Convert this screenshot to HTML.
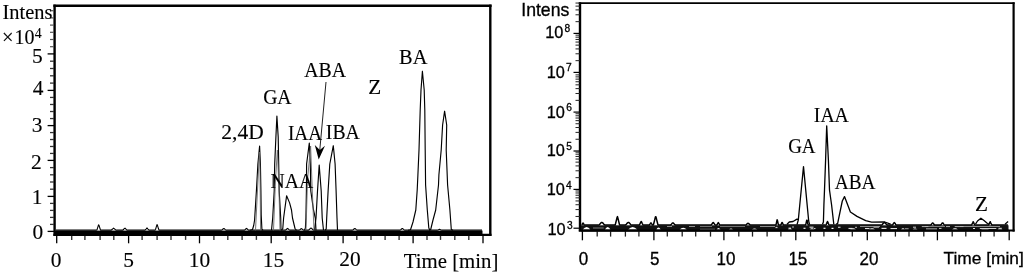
<!DOCTYPE html>
<html><head><meta charset="utf-8"><style>
html,body{margin:0;padding:0;background:#fff;width:1024px;height:273px;overflow:hidden}
svg{display:block;will-change:transform}
</style></head><body>
<svg width="1024" height="273" viewBox="0 0 1024 273">
<rect width="1024" height="273" fill="#fff"/>
<line x1="54.60" y1="4.60" x2="54.60" y2="235.90" stroke="#000" stroke-width="2.4"/>
<line x1="53.40" y1="5.80" x2="491.60" y2="5.80" stroke="#000" stroke-width="2.5"/>
<line x1="490.30" y1="4.60" x2="490.30" y2="235.90" stroke="#000" stroke-width="2.4"/>
<line x1="53.40" y1="234.80" x2="491.50" y2="234.80" stroke="#000" stroke-width="2.2"/>
<line x1="56.70" y1="235.50" x2="56.70" y2="243.30" stroke="#000" stroke-width="1.3"/>
<line x1="71.70" y1="235.50" x2="71.70" y2="239.90" stroke="#333" stroke-width="1.4"/>
<line x1="84.90" y1="235.50" x2="84.90" y2="239.90" stroke="#333" stroke-width="1.4"/>
<line x1="100.10" y1="235.50" x2="100.10" y2="239.90" stroke="#333" stroke-width="1.4"/>
<line x1="113.80" y1="235.50" x2="113.80" y2="239.90" stroke="#333" stroke-width="1.4"/>
<line x1="128.60" y1="235.50" x2="128.60" y2="243.30" stroke="#000" stroke-width="1.3"/>
<line x1="142.10" y1="235.50" x2="142.10" y2="239.90" stroke="#333" stroke-width="1.4"/>
<line x1="157.10" y1="235.50" x2="157.10" y2="239.90" stroke="#333" stroke-width="1.4"/>
<line x1="171.00" y1="235.50" x2="171.00" y2="239.90" stroke="#333" stroke-width="1.4"/>
<line x1="185.60" y1="235.50" x2="185.60" y2="239.90" stroke="#333" stroke-width="1.4"/>
<line x1="199.50" y1="235.50" x2="199.50" y2="243.30" stroke="#000" stroke-width="1.3"/>
<line x1="213.90" y1="235.50" x2="213.90" y2="239.90" stroke="#333" stroke-width="1.4"/>
<line x1="227.80" y1="235.50" x2="227.80" y2="239.90" stroke="#333" stroke-width="1.4"/>
<line x1="242.10" y1="235.50" x2="242.10" y2="239.90" stroke="#333" stroke-width="1.4"/>
<line x1="256.40" y1="235.50" x2="256.40" y2="239.90" stroke="#333" stroke-width="1.4"/>
<line x1="271.20" y1="235.50" x2="271.20" y2="243.30" stroke="#000" stroke-width="1.3"/>
<line x1="285.90" y1="235.50" x2="285.90" y2="239.90" stroke="#333" stroke-width="1.4"/>
<line x1="299.80" y1="235.50" x2="299.80" y2="239.90" stroke="#333" stroke-width="1.4"/>
<line x1="314.40" y1="235.50" x2="314.40" y2="239.90" stroke="#333" stroke-width="1.4"/>
<line x1="328.10" y1="235.50" x2="328.10" y2="239.90" stroke="#333" stroke-width="1.4"/>
<line x1="343.10" y1="235.50" x2="343.10" y2="243.30" stroke="#000" stroke-width="1.3"/>
<line x1="356.80" y1="235.50" x2="356.80" y2="239.90" stroke="#333" stroke-width="1.4"/>
<line x1="371.00" y1="235.50" x2="371.00" y2="239.90" stroke="#333" stroke-width="1.4"/>
<line x1="385.10" y1="235.50" x2="385.10" y2="239.90" stroke="#333" stroke-width="1.4"/>
<line x1="399.10" y1="235.50" x2="399.10" y2="239.90" stroke="#333" stroke-width="1.4"/>
<line x1="413.10" y1="235.50" x2="413.10" y2="243.30" stroke="#000" stroke-width="1.3"/>
<line x1="427.00" y1="235.50" x2="427.00" y2="239.90" stroke="#333" stroke-width="1.4"/>
<line x1="440.50" y1="235.50" x2="440.50" y2="239.90" stroke="#333" stroke-width="1.4"/>
<line x1="454.80" y1="235.50" x2="454.80" y2="239.90" stroke="#333" stroke-width="1.4"/>
<line x1="468.80" y1="235.50" x2="468.80" y2="239.90" stroke="#333" stroke-width="1.4"/>
<line x1="483.00" y1="235.50" x2="483.00" y2="243.30" stroke="#000" stroke-width="1.3"/>
<line x1="47.60" y1="231.40" x2="54.00" y2="231.40" stroke="#000" stroke-width="1.3"/>
<line x1="50.00" y1="224.40" x2="54.00" y2="224.40" stroke="#333" stroke-width="1.3"/>
<line x1="50.00" y1="217.40" x2="54.00" y2="217.40" stroke="#333" stroke-width="1.3"/>
<line x1="50.00" y1="210.40" x2="54.00" y2="210.40" stroke="#333" stroke-width="1.3"/>
<line x1="50.00" y1="203.40" x2="54.00" y2="203.40" stroke="#333" stroke-width="1.3"/>
<line x1="47.60" y1="196.40" x2="54.00" y2="196.40" stroke="#000" stroke-width="1.3"/>
<line x1="50.00" y1="189.20" x2="54.00" y2="189.20" stroke="#333" stroke-width="1.3"/>
<line x1="50.00" y1="182.00" x2="54.00" y2="182.00" stroke="#333" stroke-width="1.3"/>
<line x1="50.00" y1="174.80" x2="54.00" y2="174.80" stroke="#333" stroke-width="1.3"/>
<line x1="50.00" y1="167.60" x2="54.00" y2="167.60" stroke="#333" stroke-width="1.3"/>
<line x1="47.60" y1="160.40" x2="54.00" y2="160.40" stroke="#000" stroke-width="1.3"/>
<line x1="50.00" y1="153.44" x2="54.00" y2="153.44" stroke="#333" stroke-width="1.3"/>
<line x1="50.00" y1="146.48" x2="54.00" y2="146.48" stroke="#333" stroke-width="1.3"/>
<line x1="50.00" y1="139.52" x2="54.00" y2="139.52" stroke="#333" stroke-width="1.3"/>
<line x1="50.00" y1="132.56" x2="54.00" y2="132.56" stroke="#333" stroke-width="1.3"/>
<line x1="47.60" y1="125.60" x2="54.00" y2="125.60" stroke="#000" stroke-width="1.3"/>
<line x1="50.00" y1="118.56" x2="54.00" y2="118.56" stroke="#333" stroke-width="1.3"/>
<line x1="50.00" y1="111.52" x2="54.00" y2="111.52" stroke="#333" stroke-width="1.3"/>
<line x1="50.00" y1="104.48" x2="54.00" y2="104.48" stroke="#333" stroke-width="1.3"/>
<line x1="50.00" y1="97.44" x2="54.00" y2="97.44" stroke="#333" stroke-width="1.3"/>
<line x1="47.60" y1="90.40" x2="54.00" y2="90.40" stroke="#000" stroke-width="1.3"/>
<line x1="50.00" y1="83.10" x2="54.00" y2="83.10" stroke="#333" stroke-width="1.3"/>
<line x1="50.00" y1="75.80" x2="54.00" y2="75.80" stroke="#333" stroke-width="1.3"/>
<line x1="50.00" y1="68.50" x2="54.00" y2="68.50" stroke="#333" stroke-width="1.3"/>
<line x1="50.00" y1="61.20" x2="54.00" y2="61.20" stroke="#333" stroke-width="1.3"/>
<line x1="47.60" y1="53.90" x2="54.00" y2="53.90" stroke="#000" stroke-width="1.3"/>
<line x1="50.00" y1="46.70" x2="54.00" y2="46.70" stroke="#555" stroke-width="1.2"/>
<line x1="50.00" y1="39.50" x2="54.00" y2="39.50" stroke="#555" stroke-width="1.2"/>
<line x1="50.00" y1="32.30" x2="54.00" y2="32.30" stroke="#555" stroke-width="1.2"/>
<line x1="50.00" y1="25.10" x2="54.00" y2="25.10" stroke="#555" stroke-width="1.2"/>
<line x1="50.00" y1="17.90" x2="54.00" y2="17.90" stroke="#555" stroke-width="1.2"/>
<line x1="50.00" y1="10.70" x2="54.00" y2="10.70" stroke="#555" stroke-width="1.2"/>
<rect x="55.00" y="230.60" width="427.50" height="5.20" fill="#000"/>
<polyline points="56.0,230.1 56.5,230.1 57.0,230.1 57.5,230.1 58.0,230.1 58.5,230.1 59.0,230.1 59.5,230.1 60.0,230.1 60.5,230.1 61.0,230.1 61.5,230.1 62.0,230.1 62.5,230.1 63.0,230.1 63.5,230.1 64.0,230.1 64.5,230.1 65.0,230.1 65.5,230.1 66.0,230.1 66.5,230.1 67.0,230.1 67.5,230.1 68.0,230.1 68.5,230.1 69.0,230.1 69.5,230.1 70.0,230.1 70.5,230.1 71.0,230.1 71.5,230.1 72.0,230.1 72.5,230.1 73.0,230.1 73.5,230.1 74.0,230.1 74.5,230.1 75.0,230.1 75.5,230.1 76.0,230.1 76.5,230.1 77.0,230.1 77.5,230.1 78.0,230.1 78.5,230.1 79.0,230.1 79.5,230.1 80.0,230.1 80.5,230.1 81.0,230.1 81.5,230.1 82.0,230.1 82.5,230.1 83.0,230.1 83.5,230.1 84.0,230.1 84.5,230.1 85.0,230.1 85.5,230.1 86.0,230.1 86.5,230.1 87.0,230.1 87.5,230.1 88.0,230.1 88.5,230.1 89.0,230.1 89.5,230.1 90.0,230.1 90.5,230.1 91.0,230.1 91.5,230.1 92.0,230.1 92.5,230.1 93.0,230.1 93.5,230.1 94.0,230.1 94.5,230.1 95.0,230.1 95.5,230.1 96.0,230.1 96.5,230.1 97.0,229.8 97.5,228.2 98.0,226.6 98.5,224.9 99.0,225.3 99.5,226.9 100.0,228.5 100.5,230.1 101.0,230.1 101.5,230.1 102.0,230.1 102.5,230.1 103.0,230.1 103.5,230.1 104.0,230.1 104.5,230.1 105.0,230.1 105.5,230.1 106.0,230.1 106.5,230.1 107.0,230.1 107.5,230.1 108.0,230.1 108.5,230.1 109.0,230.1 109.5,230.1 110.0,230.1 110.5,230.1 111.0,230.1 111.5,230.0 112.0,229.5 112.5,229.0 113.0,228.6 113.5,228.1 114.0,228.4 114.5,228.9 115.0,229.3 115.5,229.8 116.0,230.1 116.5,230.1 117.0,230.1 117.5,230.1 118.0,230.1 118.5,230.1 119.0,230.1 119.5,230.1 120.0,230.1 120.5,230.1 121.0,230.1 121.5,230.1 122.0,230.1 122.5,230.1 123.0,230.0 123.5,229.5 124.0,228.9 124.5,228.4 125.0,228.1 125.5,228.6 126.0,229.2 126.5,229.7 127.0,230.1 127.5,230.1 128.0,230.1 128.5,230.1 129.0,230.1 129.5,230.1 130.0,230.1 130.5,230.1 131.0,230.1 131.5,230.1 132.0,230.1 132.5,230.1 133.0,230.1 133.5,230.1 134.0,230.1 134.5,230.1 135.0,230.1 135.5,230.1 136.0,230.1 136.5,230.1 137.0,230.1 137.5,230.1 138.0,230.1 138.5,230.1 139.0,230.1 139.5,230.1 140.0,230.1 140.5,230.1 141.0,230.1 141.5,230.1 142.0,230.1 142.5,230.1 143.0,230.1 143.5,230.1 144.0,230.1 144.5,230.1 145.0,230.1 145.5,229.6 146.0,229.1 146.5,228.5 147.0,228.0 147.5,228.5 148.0,229.1 148.5,229.6 149.0,230.1 149.5,230.1 150.0,230.1 150.5,230.1 151.0,230.1 151.5,230.1 152.0,230.1 152.5,230.1 153.0,230.1 153.5,230.1 154.0,230.1 154.5,230.1 155.0,230.1 155.5,229.5 156.0,227.8 156.5,226.2 157.0,224.6 157.5,225.6 158.0,227.2 158.5,228.8 159.0,230.1 159.5,230.1 160.0,230.1 160.5,230.1 161.0,230.1 161.5,230.1 162.0,230.1 162.5,230.1 163.0,230.1 163.5,230.1 164.0,230.1 164.5,230.1 165.0,230.1 165.5,230.1 166.0,230.1 166.5,230.1 167.0,230.1 167.5,230.1 168.0,230.1 168.5,230.1 169.0,230.1 169.5,230.1 170.0,230.1 170.5,230.1 171.0,230.1 171.5,230.1 172.0,230.1 172.5,230.1 173.0,230.1 173.5,230.1 174.0,230.1 174.5,230.1 175.0,230.1 175.5,230.1 176.0,230.1 176.5,230.1 177.0,230.1 177.5,230.1 178.0,230.1 178.5,230.1 179.0,230.1 179.5,230.1 180.0,230.1 180.5,230.1 181.0,230.1 181.5,230.1 182.0,230.1 182.5,230.1 183.0,230.1 183.5,230.1 184.0,230.1 184.5,230.1 185.0,230.1 185.5,230.1 186.0,230.1 186.5,230.1 187.0,230.1 187.5,230.1 188.0,230.1 188.5,230.1 189.0,230.1 189.5,230.1 190.0,230.1 190.5,230.1 191.0,230.1 191.5,230.1 192.0,230.1 192.5,230.1 193.0,230.1 193.5,230.1 194.0,230.1 194.5,230.1 195.0,230.1 195.5,230.1 196.0,230.1 196.5,230.1 197.0,230.1 197.5,230.1 198.0,230.1 198.5,230.1 199.0,230.1 199.5,230.1 200.0,230.1 200.5,230.1 201.0,230.1 201.5,230.1 202.0,230.1 202.5,230.1 203.0,230.1 203.5,230.1 204.0,230.1 204.5,230.1 205.0,230.1 205.5,230.1 206.0,230.1 206.5,230.1 207.0,230.1 207.5,230.1 208.0,230.1 208.5,230.1 209.0,230.1 209.5,230.1 210.0,230.1 210.5,230.1 211.0,230.1 211.5,230.1 212.0,230.1 212.5,230.1 213.0,230.1 213.5,230.1 214.0,230.1 214.5,230.1 215.0,230.1 215.5,230.1 216.0,230.1 216.5,230.1 217.0,230.1 217.5,230.1 218.0,230.1 218.5,230.1 219.0,230.1 219.5,230.1 220.0,230.1 220.5,230.1 221.0,230.1 221.5,230.1 222.0,229.9 222.5,229.5 223.0,229.0 223.5,228.6 224.0,228.5 224.5,228.9 225.0,229.4 225.5,229.8 226.0,230.1 226.5,230.1 227.0,230.1 227.5,230.1 228.0,230.1 228.5,230.1 229.0,230.1 229.5,230.1 230.0,230.1 230.5,230.1 231.0,230.1 231.5,230.1 232.0,230.1 232.5,230.1 233.0,230.1 233.5,230.1 234.0,230.1 234.5,230.1 235.0,230.1 235.5,230.1 236.0,230.1 236.5,230.1 237.0,230.1 237.5,230.1 238.0,230.1 238.5,230.1 239.0,230.1 239.5,230.1 240.0,230.1 240.5,230.1 241.0,230.1 241.5,230.1 242.0,230.1 242.5,230.1 243.0,230.1 243.5,230.1 244.0,230.1 244.5,230.1 245.0,229.7 245.5,229.2 246.0,228.8 246.5,228.3 247.0,228.8 247.5,229.2 248.0,229.7 248.5,230.1 249.0,230.1 249.5,230.1 250.0,230.1 250.5,230.1 251.0,230.1 251.5,230.1 252.0,230.1 252.5,230.1 253.0,230.1 253.5,230.1 254.0,230.1 254.5,230.1 255.0,230.1 255.5,230.1 256.0,230.1 256.5,230.1 257.0,230.1 257.5,230.1 258.0,230.1 258.5,230.1 259.0,230.1 259.5,230.1 260.0,230.1 260.5,230.1 261.0,230.1 261.5,230.1 262.0,230.1 262.5,230.1 263.0,230.1 263.5,230.1 264.0,230.1 264.5,230.1 265.0,230.1 265.5,230.1 266.0,230.1 266.5,230.1 267.0,230.1 267.5,230.1 268.0,230.1 268.5,230.1 269.0,230.1 269.5,230.1 270.0,230.1 270.5,230.1 271.0,230.1 271.5,230.1 272.0,230.1 272.5,230.1 273.0,230.1 273.5,230.1 274.0,230.1 274.5,230.1 275.0,230.1 275.5,230.1 276.0,230.1 276.5,230.1 277.0,230.1 277.5,230.1 278.0,230.1 278.5,230.1 279.0,230.1 279.5,230.1 280.0,230.1 280.5,230.1 281.0,230.1 281.5,230.1 282.0,230.1 282.5,230.1 283.0,230.1 283.5,230.1 284.0,230.1 284.5,230.1 285.0,230.1 285.5,230.1 286.0,229.7 286.5,229.3 287.0,228.8 287.5,228.4 288.0,228.7 288.5,229.1 289.0,229.6 289.5,230.0 290.0,230.1 290.5,230.1 291.0,230.1 291.5,230.1 292.0,230.1 292.5,230.1 293.0,230.1 293.5,230.1 294.0,230.1 294.5,230.1 295.0,230.1 295.5,230.1 296.0,230.1 296.5,230.1 297.0,230.1 297.5,230.1 298.0,230.1 298.5,230.1 299.0,230.1 299.5,230.0 300.0,229.6 300.5,229.2 301.0,228.8 301.5,228.6 302.0,229.0 302.5,229.4 303.0,229.8 303.5,230.1 304.0,230.1 304.5,230.1 305.0,230.1 305.5,230.1 306.0,230.1 306.5,230.1 307.0,230.1 307.5,230.1 308.0,230.1 308.5,230.1 309.0,229.7 309.5,229.3 310.0,228.8 310.5,228.4 311.0,228.0 311.5,228.4 312.0,228.8 312.5,229.3 313.0,229.7 313.5,230.1 314.0,230.1 314.5,230.1 315.0,230.1 315.5,230.1 316.0,230.1 316.5,230.1 317.0,230.1 317.5,230.1 318.0,230.1 318.5,230.1 319.0,230.1 319.5,230.1 320.0,230.1 320.5,230.1 321.0,230.1 321.5,230.1 322.0,230.1 322.5,230.1 323.0,230.1 323.5,230.1 324.0,230.1 324.5,230.1 325.0,230.1 325.5,230.1 326.0,230.1 326.5,230.1 327.0,230.1 327.5,230.1 328.0,230.1 328.5,230.1 329.0,230.1 329.5,230.1 330.0,230.1 330.5,230.1 331.0,230.1 331.5,230.1 332.0,230.1 332.5,230.1 333.0,230.1 333.5,230.1 334.0,230.1 334.5,230.1 335.0,230.1 335.5,230.1 336.0,230.1 336.5,230.1 337.0,230.1 337.5,230.1 338.0,230.1 338.5,230.1 339.0,230.1 339.5,230.1 340.0,230.1 340.5,230.1 341.0,230.1 341.5,230.1 342.0,230.1 342.5,230.1 343.0,230.1 343.5,230.1 344.0,230.1 344.5,230.1 345.0,230.1 345.5,230.1 346.0,230.1 346.5,230.1 347.0,230.1 347.5,230.1 348.0,230.1 348.5,230.1 349.0,230.1 349.5,230.1 350.0,230.1 350.5,230.1 351.0,230.1 351.5,230.1 352.0,230.1 352.5,230.1 353.0,229.9 353.5,229.5 354.0,229.0 354.5,228.6 355.0,228.5 355.5,228.9 356.0,229.4 356.5,229.8 357.0,230.1 357.5,230.1 358.0,230.1 358.5,230.1 359.0,230.1 359.5,230.1 360.0,230.1 360.5,230.1 361.0,230.1 361.5,230.1 362.0,230.1 362.5,230.1 363.0,230.1 363.5,230.1 364.0,230.1 364.5,230.1 365.0,230.1 365.5,230.1 366.0,230.1 366.5,230.1 367.0,230.1 367.5,230.1 368.0,230.1 368.5,230.1 369.0,230.1 369.5,230.1 370.0,230.1 370.5,230.1 371.0,230.1 371.5,230.1 372.0,230.1 372.5,230.1 373.0,230.1 373.5,230.1 374.0,230.1 374.5,230.1 375.0,230.1 375.5,230.1 376.0,230.1 376.5,230.1 377.0,230.1 377.5,230.1 378.0,230.1 378.5,230.1 379.0,230.1 379.5,230.1 380.0,230.1 380.5,230.1 381.0,230.1 381.5,230.1 382.0,230.1 382.5,230.1 383.0,230.1 383.5,230.1 384.0,230.1 384.5,230.1 385.0,230.1 385.5,230.1 386.0,230.1 386.5,230.1 387.0,230.1 387.5,230.1 388.0,230.1 388.5,230.1 389.0,230.1 389.5,230.1 390.0,230.1 390.5,230.1 391.0,230.1 391.5,230.1 392.0,230.1 392.5,230.1 393.0,230.1 393.5,230.1 394.0,230.1 394.5,230.1 395.0,230.1 395.5,230.1 396.0,230.1 396.5,230.1 397.0,230.1 397.5,230.1 398.0,230.1 398.5,230.1 399.0,230.1 399.5,230.1 400.0,230.1 400.5,229.9 401.0,229.5 401.5,229.0 402.0,228.6 402.5,228.5 403.0,228.9 403.5,229.4 404.0,229.8 404.5,230.1 405.0,230.1 405.5,230.1 406.0,230.1 406.5,230.1 407.0,230.1 407.5,230.1 408.0,230.1 408.5,230.1 409.0,230.1 409.5,230.1 410.0,230.1 410.5,230.1 411.0,230.1 411.5,230.1 412.0,230.1 412.5,230.1 413.0,230.1 413.5,230.1 414.0,230.1 414.5,230.1 415.0,230.1 415.5,230.1 416.0,230.1 416.5,230.1 417.0,230.1 417.5,230.1 418.0,230.1 418.5,230.1 419.0,230.1 419.5,230.1 420.0,230.1 420.5,230.1 421.0,230.1 421.5,230.1 422.0,230.1 422.5,230.1 423.0,230.1 423.5,230.1 424.0,230.1 424.5,230.1 425.0,230.1 425.5,230.1 426.0,230.1 426.5,230.1 427.0,230.1 427.5,230.1 428.0,230.1 428.5,230.1 429.0,230.1 429.5,230.1 430.0,230.1 430.5,230.1 431.0,230.1 431.5,230.1 432.0,230.1 432.5,230.1 433.0,230.1 433.5,230.1 434.0,230.1 434.5,230.1 435.0,230.1 435.5,230.1 436.0,230.1 436.5,230.1 437.0,230.1 437.5,230.1 438.0,229.9 438.5,229.7 439.0,229.5 439.5,229.3 440.0,229.5 440.5,229.7 441.0,229.9 441.5,230.1 442.0,230.1 442.5,230.1 443.0,230.1 443.5,230.1 444.0,230.1 444.5,230.1 445.0,230.1 445.5,230.1 446.0,230.1 446.5,230.1 447.0,230.1 447.5,230.1 448.0,230.1 448.5,230.1 449.0,230.1 449.5,230.1 450.0,230.1 450.5,230.1 451.0,230.1 451.5,230.1 452.0,230.1 452.5,230.1 453.0,230.1 453.5,230.1 454.0,230.1 454.5,230.1 455.0,230.1 455.5,230.1 456.0,230.1 456.5,230.1 457.0,230.1 457.5,230.1 458.0,230.1 458.5,230.1 459.0,230.1 459.5,230.1 460.0,230.1 460.5,230.1 461.0,230.1 461.5,230.1 462.0,230.1 462.5,230.1 463.0,230.1 463.5,230.1 464.0,230.1 464.5,230.1 465.0,230.1 465.5,230.1 466.0,230.1 466.5,230.1 467.0,230.1 467.5,230.1 468.0,230.1 468.5,230.1 469.0,230.1 469.5,230.1 470.0,230.1 470.5,230.1 471.0,230.1 471.5,230.1 472.0,230.1 472.5,230.1 473.0,230.1 473.5,230.1 474.0,230.1 474.5,230.1 475.0,230.1 475.5,230.1 476.0,230.1 476.5,230.1 477.0,230.1 477.5,230.1 478.0,230.1 478.5,230.1 479.0,230.1 479.5,230.1 480.0,230.1 480.5,230.1 481.0,230.1 481.5,230.1 482.0,230.1" fill="none" stroke="#000" stroke-width="1.1" stroke-linejoin="round"/>
<polyline points="250.0,230.3 252.5,229.5 253.7,225.5 254.6,220.0 256.4,191.0 257.9,164.0 259.6,146.1 260.4,164.0 260.9,191.0 261.2,215.0 261.9,229.0 263.0,230.3" fill="none" stroke="#000" stroke-width="1.15" stroke-linejoin="round"/>
<polyline points="271.5,230.3 272.7,218.0 274.2,191.0 274.7,164.0 275.9,137.0 276.9,116.1 278.2,137.0 278.7,164.0 279.2,191.0 280.7,218.0 281.0,230.3" fill="none" stroke="#000" stroke-width="1.15" stroke-linejoin="round"/>
<polyline points="281.5,230.3 282.8,228.5 283.6,218.0 286.6,195.8 289.6,202.9 291.5,210.0 292.5,218.0 295.0,228.5 296.5,230.3" fill="none" stroke="#000" stroke-width="1.15" stroke-linejoin="round"/>
<polyline points="304.5,230.3 305.4,228.0 305.9,218.0 306.4,191.0 306.6,164.0 309.3,143.1 310.3,164.0 310.8,191.0 313.5,210.0 315.3,218.0 316.0,230.3" fill="none" stroke="#000" stroke-width="1.15" stroke-linejoin="round"/>
<polyline points="314.5,230.3 316.0,218.0 317.5,191.0 319.2,165.0 321.2,191.0 322.2,218.0 323.5,230.3" fill="none" stroke="#000" stroke-width="1.15" stroke-linejoin="round"/>
<polyline points="325.0,230.3 326.2,229.0 326.7,218.0 328.1,191.0 329.8,164.0 333.3,145.7 335.1,164.0 336.1,191.0 337.0,218.0 337.5,230.3" fill="none" stroke="#000" stroke-width="1.15" stroke-linejoin="round"/>
<polyline points="408.0,230.3 410.5,229.8 413.0,222.0 415.8,210.0 417.2,190.0 417.9,175.0 419.0,150.0 420.2,110.0 421.0,90.0 422.4,71.2 424.2,90.0 424.8,110.0 425.2,150.0 425.6,185.0 427.3,210.0 428.8,228.0 430.0,230.3" fill="none" stroke="#000" stroke-width="1.15" stroke-linejoin="round"/>
<polyline points="429.0,230.3 430.7,229.5 433.0,220.0 435.7,210.0 438.5,185.0 438.9,175.0 441.2,150.0 442.6,125.0 444.6,111.2 446.7,125.0 446.2,150.0 447.2,175.0 447.6,185.0 449.9,210.0 451.3,229.5 453.0,230.3" fill="none" stroke="#000" stroke-width="1.15" stroke-linejoin="round"/>
<polyline points="255.5,230.3 258.5,170.0 259.3,152.0 260.0,170.0 260.6,230.3" fill="none" stroke="#666" stroke-width="0.9" stroke-linejoin="round"/>
<polyline points="273.5,230.3 275.5,180.0 277.4,150.0 279.0,190.0 280.0,230.3" fill="none" stroke="#666" stroke-width="0.9" stroke-linejoin="round"/>
<polyline points="306.0,230.3 307.5,180.0 310.6,146.0 311.5,170.0 312.3,191.0 314.0,230.3" fill="none" stroke="#666" stroke-width="0.9" stroke-linejoin="round"/>
<line x1="326.00" y1="82.00" x2="319.70" y2="151.00" stroke="#222" stroke-width="1.0"/>
<path d="M314.8,145 L318.7,159.5 L325,145.8 L319.8,150 Z" fill="#000"/>
<line x1="580.00" y1="2.30" x2="580.00" y2="231.60" stroke="#000" stroke-width="2.4"/>
<line x1="578.80" y1="3.20" x2="1014.60" y2="3.20" stroke="#000" stroke-width="1.8"/>
<line x1="1013.60" y1="2.30" x2="1013.60" y2="231.60" stroke="#000" stroke-width="2.2"/>
<line x1="578.80" y1="230.50" x2="1014.60" y2="230.50" stroke="#000" stroke-width="2.0"/>
<line x1="582.40" y1="231.00" x2="582.40" y2="240.30" stroke="#000" stroke-width="1.3"/>
<line x1="597.20" y1="231.00" x2="597.20" y2="236.60" stroke="#222" stroke-width="1.3"/>
<line x1="610.60" y1="231.00" x2="610.60" y2="236.60" stroke="#222" stroke-width="1.3"/>
<line x1="625.40" y1="231.00" x2="625.40" y2="236.60" stroke="#222" stroke-width="1.3"/>
<line x1="638.90" y1="231.00" x2="638.90" y2="236.60" stroke="#222" stroke-width="1.3"/>
<line x1="653.90" y1="231.00" x2="653.90" y2="240.30" stroke="#000" stroke-width="1.3"/>
<line x1="667.30" y1="231.00" x2="667.30" y2="236.60" stroke="#222" stroke-width="1.3"/>
<line x1="682.20" y1="231.00" x2="682.20" y2="236.60" stroke="#222" stroke-width="1.3"/>
<line x1="695.70" y1="231.00" x2="695.70" y2="236.60" stroke="#222" stroke-width="1.3"/>
<line x1="710.50" y1="231.00" x2="710.50" y2="236.60" stroke="#222" stroke-width="1.3"/>
<line x1="723.90" y1="231.00" x2="723.90" y2="240.30" stroke="#000" stroke-width="1.3"/>
<line x1="738.80" y1="231.00" x2="738.80" y2="236.60" stroke="#222" stroke-width="1.3"/>
<line x1="752.50" y1="231.00" x2="752.50" y2="236.60" stroke="#222" stroke-width="1.3"/>
<line x1="767.10" y1="231.00" x2="767.10" y2="236.60" stroke="#222" stroke-width="1.3"/>
<line x1="780.90" y1="231.00" x2="780.90" y2="236.60" stroke="#222" stroke-width="1.3"/>
<line x1="795.80" y1="231.00" x2="795.80" y2="240.30" stroke="#000" stroke-width="1.3"/>
<line x1="810.50" y1="231.00" x2="810.50" y2="236.60" stroke="#222" stroke-width="1.3"/>
<line x1="823.90" y1="231.00" x2="823.90" y2="236.60" stroke="#222" stroke-width="1.3"/>
<line x1="838.80" y1="231.00" x2="838.80" y2="236.60" stroke="#222" stroke-width="1.3"/>
<line x1="852.30" y1="231.00" x2="852.30" y2="236.60" stroke="#222" stroke-width="1.3"/>
<line x1="867.30" y1="231.00" x2="867.30" y2="240.30" stroke="#000" stroke-width="1.3"/>
<line x1="880.80" y1="231.00" x2="880.80" y2="236.60" stroke="#222" stroke-width="1.3"/>
<line x1="895.40" y1="231.00" x2="895.40" y2="236.60" stroke="#222" stroke-width="1.3"/>
<line x1="909.00" y1="231.00" x2="909.00" y2="236.60" stroke="#222" stroke-width="1.3"/>
<line x1="923.80" y1="231.00" x2="923.80" y2="236.60" stroke="#222" stroke-width="1.3"/>
<line x1="937.40" y1="231.00" x2="937.40" y2="240.30" stroke="#000" stroke-width="1.3"/>
<line x1="952.20" y1="231.00" x2="952.20" y2="236.60" stroke="#222" stroke-width="1.3"/>
<line x1="965.80" y1="231.00" x2="965.80" y2="236.60" stroke="#222" stroke-width="1.3"/>
<line x1="980.60" y1="231.00" x2="980.60" y2="236.60" stroke="#222" stroke-width="1.3"/>
<line x1="994.10" y1="231.00" x2="994.10" y2="236.60" stroke="#222" stroke-width="1.3"/>
<line x1="1009.20" y1="231.00" x2="1009.20" y2="240.30" stroke="#000" stroke-width="1.3"/>
<line x1="573.50" y1="228.20" x2="580.00" y2="228.20" stroke="#000" stroke-width="1.2"/>
<line x1="575.50" y1="216.46" x2="580.00" y2="216.46" stroke="#222" stroke-width="1.0"/>
<line x1="575.50" y1="209.59" x2="580.00" y2="209.59" stroke="#222" stroke-width="1.0"/>
<line x1="575.50" y1="204.72" x2="580.00" y2="204.72" stroke="#222" stroke-width="1.0"/>
<line x1="575.50" y1="200.94" x2="580.00" y2="200.94" stroke="#222" stroke-width="1.0"/>
<line x1="575.50" y1="197.85" x2="580.00" y2="197.85" stroke="#222" stroke-width="1.0"/>
<line x1="575.50" y1="195.24" x2="580.00" y2="195.24" stroke="#222" stroke-width="1.0"/>
<line x1="575.50" y1="192.98" x2="580.00" y2="192.98" stroke="#222" stroke-width="1.0"/>
<line x1="575.50" y1="190.98" x2="580.00" y2="190.98" stroke="#222" stroke-width="1.0"/>
<line x1="573.50" y1="189.40" x2="580.00" y2="189.40" stroke="#000" stroke-width="1.2"/>
<line x1="575.50" y1="177.66" x2="580.00" y2="177.66" stroke="#222" stroke-width="1.0"/>
<line x1="575.50" y1="170.79" x2="580.00" y2="170.79" stroke="#222" stroke-width="1.0"/>
<line x1="575.50" y1="165.92" x2="580.00" y2="165.92" stroke="#222" stroke-width="1.0"/>
<line x1="575.50" y1="162.14" x2="580.00" y2="162.14" stroke="#222" stroke-width="1.0"/>
<line x1="575.50" y1="159.05" x2="580.00" y2="159.05" stroke="#222" stroke-width="1.0"/>
<line x1="575.50" y1="156.44" x2="580.00" y2="156.44" stroke="#222" stroke-width="1.0"/>
<line x1="575.50" y1="154.18" x2="580.00" y2="154.18" stroke="#222" stroke-width="1.0"/>
<line x1="575.50" y1="152.18" x2="580.00" y2="152.18" stroke="#222" stroke-width="1.0"/>
<line x1="573.50" y1="151.00" x2="580.00" y2="151.00" stroke="#000" stroke-width="1.2"/>
<line x1="575.50" y1="139.26" x2="580.00" y2="139.26" stroke="#222" stroke-width="1.0"/>
<line x1="575.50" y1="132.39" x2="580.00" y2="132.39" stroke="#222" stroke-width="1.0"/>
<line x1="575.50" y1="127.52" x2="580.00" y2="127.52" stroke="#222" stroke-width="1.0"/>
<line x1="575.50" y1="123.74" x2="580.00" y2="123.74" stroke="#222" stroke-width="1.0"/>
<line x1="575.50" y1="120.65" x2="580.00" y2="120.65" stroke="#222" stroke-width="1.0"/>
<line x1="575.50" y1="118.04" x2="580.00" y2="118.04" stroke="#222" stroke-width="1.0"/>
<line x1="575.50" y1="115.78" x2="580.00" y2="115.78" stroke="#222" stroke-width="1.0"/>
<line x1="575.50" y1="113.78" x2="580.00" y2="113.78" stroke="#222" stroke-width="1.0"/>
<line x1="573.50" y1="112.10" x2="580.00" y2="112.10" stroke="#000" stroke-width="1.2"/>
<line x1="575.50" y1="100.36" x2="580.00" y2="100.36" stroke="#222" stroke-width="1.0"/>
<line x1="575.50" y1="93.49" x2="580.00" y2="93.49" stroke="#222" stroke-width="1.0"/>
<line x1="575.50" y1="88.62" x2="580.00" y2="88.62" stroke="#222" stroke-width="1.0"/>
<line x1="575.50" y1="84.84" x2="580.00" y2="84.84" stroke="#222" stroke-width="1.0"/>
<line x1="575.50" y1="81.75" x2="580.00" y2="81.75" stroke="#222" stroke-width="1.0"/>
<line x1="575.50" y1="79.14" x2="580.00" y2="79.14" stroke="#222" stroke-width="1.0"/>
<line x1="575.50" y1="76.88" x2="580.00" y2="76.88" stroke="#222" stroke-width="1.0"/>
<line x1="575.50" y1="74.88" x2="580.00" y2="74.88" stroke="#222" stroke-width="1.0"/>
<line x1="573.50" y1="72.40" x2="580.00" y2="72.40" stroke="#000" stroke-width="1.2"/>
<line x1="575.50" y1="60.66" x2="580.00" y2="60.66" stroke="#222" stroke-width="1.0"/>
<line x1="575.50" y1="53.79" x2="580.00" y2="53.79" stroke="#222" stroke-width="1.0"/>
<line x1="575.50" y1="48.92" x2="580.00" y2="48.92" stroke="#222" stroke-width="1.0"/>
<line x1="575.50" y1="45.14" x2="580.00" y2="45.14" stroke="#222" stroke-width="1.0"/>
<line x1="575.50" y1="42.05" x2="580.00" y2="42.05" stroke="#222" stroke-width="1.0"/>
<line x1="575.50" y1="39.44" x2="580.00" y2="39.44" stroke="#222" stroke-width="1.0"/>
<line x1="575.50" y1="37.18" x2="580.00" y2="37.18" stroke="#222" stroke-width="1.0"/>
<line x1="575.50" y1="35.18" x2="580.00" y2="35.18" stroke="#222" stroke-width="1.0"/>
<line x1="573.50" y1="33.40" x2="580.00" y2="33.40" stroke="#000" stroke-width="1.2"/>
<line x1="575.50" y1="21.66" x2="580.00" y2="21.66" stroke="#222" stroke-width="1.0"/>
<line x1="575.50" y1="14.79" x2="580.00" y2="14.79" stroke="#222" stroke-width="1.0"/>
<line x1="575.50" y1="9.92" x2="580.00" y2="9.92" stroke="#222" stroke-width="1.0"/>
<line x1="575.50" y1="6.14" x2="580.00" y2="6.14" stroke="#222" stroke-width="1.0"/>
<line x1="575.50" y1="3.05" x2="580.00" y2="3.05" stroke="#222" stroke-width="1.0"/>
<rect x="581.00" y="225.30" width="427.50" height="6.20" fill="#111"/>
<path d="M582.8,229.6 Q586.6,224.2 590.4,229.6 Z" fill="#fff"/>
<path d="M604.9,229.6 Q607.7,224.2 610.5,229.6 Z" fill="#fff"/>
<path d="M628.2,229.6 Q632.7,224.2 637.2,229.6 Z" fill="#fff"/>
<path d="M656.3,229.6 Q658.5,225.6 660.7,229.6 Z" fill="#fff"/>
<path d="M679.6,229.6 Q683.2,226.0 686.8,229.6 Z" fill="#fff"/>
<path d="M716.5,229.6 Q718.5,226.4 720.5,229.6 Z" fill="#fff"/>
<path d="M729.0,229.6 Q731.0,227.2 733.0,229.6 Z" fill="#fff"/>
<path d="M751.8,229.6 Q754.5,227.2 757.2,229.6 Z" fill="#fff"/>
<path d="M788.0,229.6 Q790.0,226.4 792.0,229.6 Z" fill="#fff"/>
<path d="M809.5,229.6 Q812.0,226.8 814.5,229.6 Z" fill="#fff"/>
<path d="M850.0,229.6 Q853.0,226.8 856.0,229.6 Z" fill="#fff"/>
<path d="M869.0,229.6 Q872.0,227.0 875.0,229.6 Z" fill="#fff"/>
<path d="M901.0,229.6 Q903.0,227.0 905.0,229.6 Z" fill="#fff"/>
<path d="M912.5,229.6 Q915.0,227.4 917.5,229.6 Z" fill="#fff"/>
<path d="M952.0,229.6 Q955.0,227.0 958.0,229.6 Z" fill="#fff"/>
<path d="M981.0,229.6 Q985.0,226.8 989.0,229.6 Z" fill="#fff"/>
<path d="M997.5,229.6 Q1000.0,227.2 1002.5,229.6 Z" fill="#fff"/>
<rect x="593.00" y="227.60" width="10.70" height="0.80" fill="#999"/>
<rect x="667.00" y="226.00" width="5.00" height="0.80" fill="#aaa"/>
<rect x="689.00" y="226.00" width="6.00" height="0.80" fill="#aaa"/>
<rect x="700.00" y="225.90" width="12.00" height="0.80" fill="#999"/>
<rect x="720.00" y="225.90" width="25.00" height="0.80" fill="#999"/>
<rect x="700.00" y="228.80" width="15.00" height="0.80" fill="#999"/>
<rect x="760.00" y="226.00" width="15.00" height="0.80" fill="#aaa"/>
<rect x="860.00" y="226.10" width="20.00" height="0.80" fill="#aaa"/>
<rect x="925.00" y="226.10" width="20.00" height="0.80" fill="#999"/>
<rect x="960.00" y="226.20" width="40.00" height="0.80" fill="#aaa"/>
<rect x="775.50" y="226.90" width="2.00" height="1.20" fill="#ccc"/>
<rect x="788.50" y="227.60" width="2.50" height="1.20" fill="#ddd"/>
<rect x="792.00" y="226.50" width="2.00" height="1.00" fill="#bbb"/>
<rect x="803.50" y="227.70" width="2.00" height="1.20" fill="#eee"/>
<rect x="809.50" y="226.60" width="4.00" height="1.20" fill="#ccc"/>
<rect x="814.00" y="228.10" width="1.50" height="1.00" fill="#ddd"/>
<rect x="823.50" y="227.70" width="2.00" height="1.20" fill="#eee"/>
<rect x="831.50" y="227.80" width="2.00" height="1.20" fill="#fff"/>
<rect x="838.00" y="226.70" width="2.50" height="1.20" fill="#ccc"/>
<rect x="848.50" y="227.90" width="4.00" height="1.20" fill="#ddd"/>
<rect x="855.00" y="226.80" width="2.00" height="1.00" fill="#bbb"/>
<rect x="865.00" y="228.00" width="4.50" height="1.20" fill="#ddd"/>
<rect x="873.50" y="226.70" width="5.50" height="1.00" fill="#bbb"/>
<rect x="881.50" y="227.80" width="5.00" height="1.20" fill="#ddd"/>
<rect x="890.50" y="228.00" width="6.50" height="1.20" fill="#ddd"/>
<rect x="905.00" y="228.40" width="3.60" height="1.00" fill="#ccc"/>
<rect x="913.00" y="226.70" width="3.00" height="1.00" fill="#ccc"/>
<rect x="921.80" y="226.15" width="6.60" height="0.90" fill="#bbb"/>
<rect x="926.00" y="228.50" width="11.00" height="1.00" fill="#ddd"/>
<rect x="939.00" y="227.90" width="2.50" height="1.00" fill="#ccc"/>
<rect x="946.00" y="226.15" width="4.00" height="0.90" fill="#bbb"/>
<rect x="954.70" y="226.15" width="8.80" height="0.90" fill="#bbb"/>
<rect x="973.00" y="228.00" width="2.00" height="1.00" fill="#ddd"/>
<rect x="979.80" y="228.00" width="16.50" height="1.00" fill="#ccc"/>
<rect x="998.50" y="227.80" width="3.30" height="1.00" fill="#ddd"/>
<line x1="581.00" y1="230.50" x2="1008.50" y2="230.50" stroke="#000" stroke-width="2.0"/>
<polyline points="581.5,225.0 581.9,224.8 582.3,224.1 582.7,223.4 583.1,223.0 583.5,223.7 583.9,224.4 584.3,225.0 584.7,225.0 585.1,225.0 585.5,225.0 585.9,225.0 586.3,225.0 586.7,225.0 587.1,225.0 587.5,225.0 587.9,225.0 588.3,225.0 588.7,225.0 589.1,225.0 589.5,225.0 589.9,225.0 590.3,225.0 590.7,225.0 591.1,225.0 591.5,225.0 591.9,225.0 592.3,225.0 592.7,225.0 593.1,225.0 593.5,225.0 593.9,225.0 594.3,225.0 594.7,225.0 595.1,225.0 595.5,225.0 595.9,225.0 596.3,225.0 596.7,225.0 597.1,225.0 597.5,225.0 597.9,225.0 598.3,225.0 598.7,225.0 599.1,224.8 599.5,224.5 599.9,224.1 600.3,223.6 600.7,223.1 601.1,222.7 601.5,222.5 601.9,222.4 602.3,222.6 602.7,222.9 603.1,223.3 603.5,223.8 603.9,224.3 604.3,224.7 604.7,224.9 605.1,225.0 605.5,225.0 605.9,225.0 606.3,225.0 606.7,225.0 607.1,225.0 607.5,225.0 607.9,225.0 608.3,225.0 608.7,225.0 609.1,225.0 609.5,225.0 609.9,225.0 610.3,225.0 610.7,225.0 611.1,225.0 611.5,225.0 611.9,225.0 612.3,225.0 612.7,225.0 613.1,225.0 613.5,225.0 613.9,225.0 614.3,225.0 614.7,225.0 615.1,225.0 615.5,223.8 615.9,222.2 616.3,220.6 616.7,219.0 617.1,217.4 617.5,216.6 617.9,218.2 618.3,219.8 618.7,221.4 619.1,223.0 619.5,224.6 619.9,225.0 620.3,225.0 620.7,225.0 621.1,225.0 621.5,225.0 621.9,225.0 622.3,225.0 622.7,225.0 623.1,225.0 623.5,225.0 623.9,225.0 624.3,225.0 624.7,225.0 625.1,225.0 625.5,224.9 625.9,224.7 626.3,224.3 626.7,223.8 627.1,223.3 627.5,222.9 627.9,222.6 628.3,222.4 628.7,222.5 629.1,222.7 629.5,223.1 629.9,223.6 630.3,224.1 630.7,224.5 631.1,224.8 631.5,225.0 631.9,225.0 632.3,225.0 632.7,225.0 633.1,225.0 633.5,225.0 633.9,225.0 634.3,225.0 634.7,225.0 635.1,225.0 635.5,225.0 635.9,225.0 636.3,225.0 636.7,225.0 637.1,225.0 637.5,225.0 637.9,225.0 638.3,225.0 638.7,225.0 639.1,225.0 639.5,224.8 639.9,224.0 640.3,223.2 640.7,222.3 641.1,221.5 641.5,221.9 641.9,222.7 642.3,223.6 642.7,224.4 643.1,225.0 643.5,225.0 643.9,225.0 644.3,225.0 644.7,225.0 645.1,225.0 645.5,225.0 645.9,225.0 646.3,225.0 646.7,225.0 647.1,225.0 647.5,225.0 647.9,225.0 648.3,225.0 648.7,225.0 649.1,225.0 649.5,224.8 649.9,224.2 650.3,223.6 650.7,222.9 651.1,222.9 651.5,223.6 651.9,224.2 652.3,224.8 652.7,225.0 653.1,225.0 653.5,224.6 653.9,223.0 654.3,221.5 654.7,219.9 655.1,218.3 655.5,216.8 655.9,216.8 656.3,218.3 656.7,219.9 657.1,221.5 657.5,223.0 657.9,224.6 658.3,225.0 658.7,225.0 659.1,225.0 659.5,225.0 659.9,225.0 660.3,225.0 660.7,225.0 661.1,225.0 661.5,225.0 661.9,225.0 662.3,225.0 662.7,225.0 663.1,225.0 663.5,225.0 663.9,225.0 664.3,225.0 664.7,225.0 665.1,225.0 665.5,225.0 665.9,225.0 666.3,225.0 666.7,225.0 667.1,225.0 667.5,225.0 667.9,225.0 668.3,225.0 668.7,225.0 669.1,225.0 669.5,225.0 669.9,225.0 670.3,225.0 670.7,224.9 671.1,224.6 671.5,224.1 671.9,223.6 672.3,223.2 672.7,222.9 673.1,222.9 673.5,223.2 673.9,223.6 674.3,224.1 674.7,224.6 675.1,224.9 675.5,225.0 675.9,225.0 676.3,225.0 676.7,225.0 677.1,225.0 677.5,225.0 677.9,225.0 678.3,225.0 678.7,225.0 679.1,225.0 679.5,225.0 679.9,225.0 680.3,225.0 680.7,225.0 681.1,225.0 681.5,225.0 681.9,225.0 682.3,225.0 682.7,225.0 683.1,225.0 683.5,225.0 683.9,225.0 684.3,225.0 684.7,225.0 685.1,225.0 685.5,225.0 685.9,225.0 686.3,225.0 686.7,225.0 687.1,225.0 687.5,225.0 687.9,225.0 688.3,225.0 688.7,225.0 689.1,225.0 689.5,225.0 689.9,225.0 690.3,225.0 690.7,225.0 691.1,225.0 691.5,225.0 691.9,225.0 692.3,225.0 692.7,225.0 693.1,225.0 693.5,225.0 693.9,225.0 694.3,225.0 694.7,225.0 695.1,225.0 695.5,225.0 695.9,225.0 696.3,225.0 696.7,225.0 697.1,225.0 697.5,225.0 697.9,225.0 698.3,225.0 698.7,225.0 699.1,225.0 699.5,225.0 699.9,225.0 700.3,225.0 700.7,225.0 701.1,225.0 701.5,225.0 701.9,225.0 702.3,225.0 702.7,225.0 703.1,225.0 703.5,225.0 703.9,225.0 704.3,225.0 704.7,225.0 705.1,225.0 705.5,225.0 705.9,225.0 706.3,225.0 706.7,225.0 707.1,225.0 707.5,225.0 707.9,225.0 708.3,225.0 708.7,225.0 709.1,225.0 709.5,225.0 709.9,225.0 710.3,225.0 710.7,225.0 711.1,225.0 711.5,224.7 711.9,224.1 712.3,223.5 712.7,222.9 713.1,222.6 713.5,222.7 713.9,223.2 714.3,223.8 714.7,224.4 715.1,224.9 715.5,225.0 715.9,225.0 716.3,225.0 716.7,225.0 717.1,224.5 717.5,223.9 717.9,223.2 718.3,222.6 718.7,223.2 719.1,223.9 719.5,224.5 719.9,225.0 720.3,225.0 720.7,225.0 721.1,225.0 721.5,225.0 721.9,225.0 722.3,225.0 722.7,225.0 723.1,225.0 723.5,225.0 723.9,225.0 724.3,225.0 724.7,225.0 725.1,225.0 725.5,225.0 725.9,225.0 726.3,225.0 726.7,225.0 727.1,225.0 727.5,225.0 727.9,225.0 728.3,225.0 728.7,225.0 729.1,225.0 729.5,225.0 729.9,225.0 730.3,225.0 730.7,225.0 731.1,225.0 731.5,225.0 731.9,225.0 732.3,225.0 732.7,225.0 733.1,225.0 733.5,225.0 733.9,225.0 734.3,225.0 734.7,225.0 735.1,225.0 735.5,225.0 735.9,225.0 736.3,225.0 736.7,225.0 737.1,225.0 737.5,225.0 737.9,225.0 738.3,225.0 738.7,225.0 739.1,225.0 739.5,225.0 739.9,225.0 740.3,225.0 740.7,225.0 741.1,225.0 741.5,225.0 741.9,225.0 742.3,225.0 742.7,225.0 743.1,225.0 743.5,225.0 743.9,225.0 744.3,225.0 744.7,225.0 745.1,225.0 745.5,225.0 745.9,224.9 746.3,224.6 746.7,224.2 747.1,223.8 747.5,223.5 747.9,223.3 748.3,223.4 748.7,223.6 749.1,224.0 749.5,224.4 749.9,224.8 750.3,225.0 750.7,225.0 751.1,225.0 751.5,225.0 751.9,225.0 752.3,225.0 752.7,225.0 753.1,225.0 753.5,225.0 753.9,225.0 754.3,225.0 754.7,225.0 755.1,225.0 755.5,225.0 755.9,225.0 756.3,225.0 756.7,225.0 757.1,225.0 757.5,225.0 757.9,225.0 758.3,225.0 758.7,225.0 759.1,225.0 759.5,225.0 759.9,225.0 760.3,225.0 760.7,225.0 761.1,225.0 761.5,225.0 761.9,225.0 762.3,225.0 762.7,225.0 763.1,225.0 763.5,225.0 763.9,225.0 764.3,225.0 764.7,225.0 765.1,225.0 765.5,225.0 765.9,225.0 766.3,225.0 766.7,225.0 767.1,225.0 767.5,225.0 767.9,225.0 768.3,225.0 768.7,225.0 769.1,225.0 769.5,225.0 769.9,225.0 770.3,225.0 770.7,225.0 771.1,225.0 771.5,225.0 771.9,225.0 772.3,225.0 772.7,225.0 773.1,225.0 773.5,225.0 773.9,225.0 774.3,225.0 774.7,225.0 775.1,225.0 775.5,225.0 775.9,225.0 776.3,223.6 776.7,221.7 777.1,219.8 777.5,220.7 777.9,222.6 778.3,224.5 778.7,225.0 779.1,225.0 779.5,225.0 779.9,225.0 780.3,225.0 780.7,225.0 781.1,224.5 781.5,223.5 781.9,222.5 782.3,222.5 782.7,223.5 783.1,224.5 783.5,225.0 783.9,225.0 784.3,225.0 784.7,225.0 785.1,225.0 785.5,225.0 785.9,225.0 786.3,225.0 786.7,225.0 787.1,225.0 787.5,225.0 787.9,225.0 788.3,225.0 788.7,225.0 789.1,225.0 789.5,225.0 789.9,225.0 790.3,225.0 790.7,225.0 791.1,225.0 791.5,225.0 791.9,225.0 792.3,225.0 792.7,225.0 793.1,225.0 793.5,225.0 793.9,225.0 794.3,225.0 794.7,225.0 795.1,225.0 795.5,225.0 795.9,225.0 796.3,225.0 796.7,225.0 797.1,225.0 797.5,225.0 797.9,225.0 798.3,225.0 798.7,225.0 799.1,225.0 799.5,225.0 799.9,225.0 800.3,225.0 800.7,225.0 801.1,225.0 801.5,225.0 801.9,225.0 802.3,225.0 802.7,225.0 803.1,225.0 803.5,225.0 803.9,225.0 804.3,225.0 804.7,225.0 805.1,225.0 805.5,225.0 805.9,224.1 806.3,222.2 806.7,220.3 807.1,220.2 807.5,222.1 807.9,224.0 808.3,225.0 808.7,225.0 809.1,225.0 809.5,225.0 809.9,225.0 810.3,225.0 810.7,225.0 811.1,225.0 811.5,225.0 811.9,225.0 812.3,225.0 812.7,225.0 813.1,225.0 813.5,225.0 813.9,225.0 814.3,225.0 814.7,225.0 815.1,225.0 815.5,225.0 815.9,225.0 816.3,225.0 816.7,225.0 817.1,225.0 817.5,225.0 817.9,225.0 818.3,225.0 818.7,225.0 819.1,225.0 819.5,225.0 819.9,225.0 820.3,225.0 820.7,225.0 821.1,225.0 821.5,225.0 821.9,225.0 822.3,225.0 822.7,225.0 823.1,225.0 823.5,225.0 823.9,225.0 824.3,225.0 824.7,225.0 825.1,225.0 825.5,225.0 825.9,225.0 826.3,224.3 826.7,223.4 827.1,222.4 827.5,221.5 827.9,222.4 828.3,223.4 828.7,224.3 829.1,225.0 829.5,225.0 829.9,225.0 830.3,225.0 830.7,225.0 831.1,225.0 831.5,225.0 831.9,225.0 832.3,225.0 832.7,225.0 833.1,225.0 833.5,225.0 833.9,225.0 834.3,225.0 834.7,225.0 835.1,225.0 835.5,225.0 835.9,225.0 836.3,225.0 836.7,225.0 837.1,225.0 837.5,225.0 837.9,225.0 838.3,225.0 838.7,225.0 839.1,225.0 839.5,225.0 839.9,225.0 840.3,225.0 840.7,225.0 841.1,225.0 841.5,225.0 841.9,225.0 842.3,225.0 842.7,225.0 843.1,225.0 843.5,225.0 843.9,225.0 844.3,225.0 844.7,225.0 845.1,225.0 845.5,225.0 845.9,225.0 846.3,225.0 846.7,225.0 847.1,225.0 847.5,225.0 847.9,225.0 848.3,225.0 848.7,225.0 849.1,225.0 849.5,225.0 849.9,225.0 850.3,225.0 850.7,225.0 851.1,225.0 851.5,225.0 851.9,225.0 852.3,225.0 852.7,225.0 853.1,225.0 853.5,225.0 853.9,225.0 854.3,225.0 854.7,225.0 855.1,225.0 855.5,225.0 855.9,225.0 856.3,225.0 856.7,225.0 857.1,225.0 857.5,225.0 857.9,225.0 858.3,225.0 858.7,225.0 859.1,225.0 859.5,225.0 859.9,225.0 860.3,225.0 860.7,225.0 861.1,225.0 861.5,225.0 861.9,225.0 862.3,225.0 862.7,225.0 863.1,225.0 863.5,225.0 863.9,225.0 864.3,225.0 864.7,225.0 865.1,225.0 865.5,225.0 865.9,225.0 866.3,225.0 866.7,225.0 867.1,225.0 867.5,225.0 867.9,225.0 868.3,225.0 868.7,225.0 869.1,225.0 869.5,225.0 869.9,225.0 870.3,225.0 870.7,225.0 871.1,225.0 871.5,225.0 871.9,225.0 872.3,225.0 872.7,225.0 873.1,225.0 873.5,225.0 873.9,225.0 874.3,225.0 874.7,225.0 875.1,225.0 875.5,225.0 875.9,225.0 876.3,225.0 876.7,225.0 877.1,225.0 877.5,225.0 877.9,225.0 878.3,225.0 878.7,225.0 879.1,225.0 879.5,225.0 879.9,225.0 880.3,225.0 880.7,225.0 881.1,225.0 881.5,225.0 881.9,224.8 882.3,224.5 882.7,224.0 883.1,223.6 883.5,223.1 883.9,222.8 884.3,222.6 884.7,222.7 885.1,222.9 885.5,223.3 885.9,223.8 886.3,224.3 886.7,224.7 887.1,224.9 887.5,225.0 887.9,225.0 888.3,225.0 888.7,225.0 889.1,225.0 889.5,225.0 889.9,225.0 890.3,225.0 890.7,225.0 891.1,225.0 891.5,225.0 891.9,225.0 892.3,225.0 892.7,224.8 893.1,224.2 893.5,223.4 893.9,222.8 894.3,222.6 894.7,222.8 895.1,223.4 895.5,224.2 895.9,224.8 896.3,225.0 896.7,225.0 897.1,225.0 897.5,225.0 897.9,225.0 898.3,225.0 898.7,225.0 899.1,225.0 899.5,225.0 899.9,225.0 900.3,225.0 900.7,225.0 901.1,225.0 901.5,225.0 901.9,225.0 902.3,225.0 902.7,225.0 903.1,225.0 903.5,225.0 903.9,225.0 904.3,225.0 904.7,225.0 905.1,225.0 905.5,225.0 905.9,225.0 906.3,225.0 906.7,225.0 907.1,225.0 907.5,225.0 907.9,225.0 908.3,225.0 908.7,225.0 909.1,225.0 909.5,225.0 909.9,225.0 910.3,225.0 910.7,225.0 911.1,225.0 911.5,225.0 911.9,225.0 912.3,225.0 912.7,225.0 913.1,225.0 913.5,225.0 913.9,225.0 914.3,225.0 914.7,225.0 915.1,225.0 915.5,225.0 915.9,225.0 916.3,225.0 916.7,225.0 917.1,225.0 917.5,225.0 917.9,225.0 918.3,225.0 918.7,225.0 919.1,225.0 919.5,225.0 919.9,225.0 920.3,225.0 920.7,225.0 921.1,225.0 921.5,225.0 921.9,225.0 922.3,225.0 922.7,225.0 923.1,225.0 923.5,225.0 923.9,225.0 924.3,225.0 924.7,225.0 925.1,225.0 925.5,225.0 925.9,225.0 926.3,225.0 926.7,225.0 927.1,225.0 927.5,225.0 927.9,225.0 928.3,225.0 928.7,225.0 929.1,225.0 929.5,225.0 929.9,225.0 930.3,225.0 930.7,225.0 931.1,224.8 931.5,224.3 931.9,223.6 932.3,223.1 932.7,222.9 933.1,223.1 933.5,223.6 933.9,224.3 934.3,224.8 934.7,225.0 935.1,225.0 935.5,225.0 935.9,225.0 936.3,225.0 936.7,225.0 937.1,225.0 937.5,225.0 937.9,225.0 938.3,225.0 938.7,225.0 939.1,225.0 939.5,225.0 939.9,225.0 940.3,225.0 940.7,225.0 941.1,224.7 941.5,224.1 941.9,223.5 942.3,223.0 942.7,222.9 943.1,223.2 943.5,223.8 943.9,224.4 944.3,224.9 944.7,225.0 945.1,225.0 945.5,225.0 945.9,225.0 946.3,225.0 946.7,225.0 947.1,225.0 947.5,225.0 947.9,225.0 948.3,225.0 948.7,225.0 949.1,225.0 949.5,225.0 949.9,225.0 950.3,225.0 950.7,225.0 951.1,225.0 951.5,225.0 951.9,225.0 952.3,225.0 952.7,225.0 953.1,225.0 953.5,225.0 953.9,225.0 954.3,225.0 954.7,225.0 955.1,225.0 955.5,225.0 955.9,225.0 956.3,225.0 956.7,225.0 957.1,225.0 957.5,225.0 957.9,225.0 958.3,225.0 958.7,225.0 959.1,225.0 959.5,225.0 959.9,225.0 960.3,225.0 960.7,225.0 961.1,225.0 961.5,225.0 961.9,225.0 962.3,225.0 962.7,225.0 963.1,225.0 963.5,225.0 963.9,225.0 964.3,225.0 964.7,225.0 965.1,225.0 965.5,225.0 965.9,225.0 966.3,225.0 966.7,225.0 967.1,225.0 967.5,225.0 967.9,225.0 968.3,225.0 968.7,225.0 969.1,225.0 969.5,225.0 969.9,225.0 970.3,225.0 970.7,225.0 971.1,225.0 971.5,225.0 971.9,224.5 972.3,223.6 972.7,222.7 973.1,221.7 973.5,222.2 973.9,223.1 974.3,224.1 974.7,225.0 975.1,225.0 975.5,225.0 975.9,225.0 976.3,225.0 976.7,225.0 977.1,225.0 977.5,225.0 977.9,225.0 978.3,225.0 978.7,225.0 979.1,225.0 979.5,225.0 979.9,225.0 980.3,225.0 980.7,225.0 981.1,225.0 981.5,225.0 981.9,225.0 982.3,225.0 982.7,225.0 983.1,225.0 983.5,225.0 983.9,225.0 984.3,225.0 984.7,225.0 985.1,225.0 985.5,225.0 985.9,225.0 986.3,225.0 986.7,225.0 987.1,225.0 987.5,225.0 987.9,225.0 988.3,225.0 988.7,225.0 989.1,224.1 989.5,223.1 989.9,222.2 990.3,221.7 990.7,222.7 991.1,223.6 991.5,224.5 991.9,225.0 992.3,225.0 992.7,225.0 993.1,225.0 993.5,225.0 993.9,225.0 994.3,225.0 994.7,225.0 995.1,225.0 995.5,225.0 995.9,225.0 996.3,225.0 996.7,225.0 997.1,225.0 997.5,225.0 997.9,225.0 998.3,225.0 998.7,225.0 999.1,225.0 999.5,225.0 999.9,225.0 1000.3,225.0 1000.7,225.0 1001.1,225.0 1001.5,225.0 1001.9,225.0 1002.3,225.0 1002.7,225.0 1003.1,225.0 1003.5,225.0 1003.9,225.0 1004.3,225.0 1004.7,225.0 1005.1,225.0 1005.5,225.0 1005.9,225.0 1006.3,225.0 1006.7,225.0 1007.1,225.0 1007.5,225.0 1007.9,225.0" fill="none" stroke="#000" stroke-width="1.5" stroke-linejoin="round"/>
<polyline points="787.0,224.2 789.3,222.0 793.0,221.5 797.0,219.1 798.4,219.3" fill="none" stroke="#000" stroke-width="1.3" stroke-linejoin="round"/>
<polyline points="797.0,224.6 798.3,220.0 803.5,166.6 808.7,221.0 809.6,224.6" fill="none" stroke="#000" stroke-width="1.3" stroke-linejoin="round"/>
<polyline points="822.5,224.2 823.4,222.0 823.9,205.0 824.5,190.0 825.6,160.0 826.7,125.8 828.4,160.0 829.5,190.0 831.6,205.0 833.8,224.2" fill="none" stroke="#000" stroke-width="1.3" stroke-linejoin="round"/>
<polyline points="836.0,224.2 837.6,223.7 842.3,201.0 844.5,196.6 850.4,212.0 857.0,216.4 865.7,220.7 871.6,222.2 884.8,222.0 890.6,224.2" fill="none" stroke="#000" stroke-width="1.3" stroke-linejoin="round"/>
<polyline points="975.5,224.2 977.5,221.0 980.9,218.2 984.0,220.5 987.5,223.5 989.0,224.2" fill="none" stroke="#000" stroke-width="1.3" stroke-linejoin="round"/>
<polyline points="1005.0,224.2 1008.1,221.5" fill="none" stroke="#000" stroke-width="1.2" stroke-linejoin="round"/>
<text x="20" y="60" transform="matrix(1.0211 0 0 1.0074 -17.89 -41.80)" font-family='"Liberation Serif", serif' font-size="20" stroke="#000" stroke-width="0.12">Intens</text>
<text x="20" y="60" transform="matrix(1.0200 0 0 1.0100 -18.37 -16.92)" font-family='"Liberation Serif", serif' font-size="20" stroke="#000" stroke-width="0.12">×</text>
<text x="20" y="60" transform="matrix(1.0000 0 0 1.0222 -5.45 -17.79)" font-family='"Liberation Serif", serif' font-size="20" stroke="#000" stroke-width="0.12">10</text>
<text x="20" y="60" transform="matrix(1.0600 0 0 1.1200 13.61 -29.60)" font-family='"Liberation Serif", serif' font-size="13" stroke="#000" stroke-width="0.12">4</text>
<text x="20" y="60" transform="matrix(1.0700 0 0 1.0700 10.68 -1.30)" font-family='"Liberation Serif", serif' font-size="20" stroke="#000" stroke-width="0.12">5</text>
<text x="20" y="60" transform="matrix(1.0700 0 0 1.0700 11.37 30.90)" font-family='"Liberation Serif", serif' font-size="20" stroke="#000" stroke-width="0.12">4</text>
<text x="20" y="60" transform="matrix(1.0700 0 0 1.0700 10.47 68.03)" font-family='"Liberation Serif", serif' font-size="20" stroke="#000" stroke-width="0.12">3</text>
<text x="20" y="60" transform="matrix(1.0700 0 0 1.0700 9.50 105.30)" font-family='"Liberation Serif", serif' font-size="20" stroke="#000" stroke-width="0.12">2</text>
<text x="20" y="60" transform="matrix(1.0700 0 0 1.0700 10.43 140.30)" font-family='"Liberation Serif", serif' font-size="20" stroke="#000" stroke-width="0.12">1</text>
<text x="20" y="60" transform="matrix(1.0700 0 0 1.0700 11.10 174.43)" font-family='"Liberation Serif", serif' font-size="20" stroke="#000" stroke-width="0.12">0</text>
<text x="20" y="60" transform="matrix(1.0700 0 0 1.0900 29.45 201.93)" font-family='"Liberation Serif", serif' font-size="20" stroke="#000" stroke-width="0.12">0</text>
<text x="20" y="60" transform="matrix(1.0700 0 0 1.0900 101.78 201.90)" font-family='"Liberation Serif", serif' font-size="20" stroke="#000" stroke-width="0.12">5</text>
<text x="20" y="60" transform="matrix(1.0700 0 0 1.0900 167.42 201.63)" font-family='"Liberation Serif", serif' font-size="20" stroke="#000" stroke-width="0.12">10</text>
<text x="20" y="60" transform="matrix(1.0700 0 0 1.0900 241.37 201.90)" font-family='"Liberation Serif", serif' font-size="20" stroke="#000" stroke-width="0.12">15</text>
<text x="20" y="60" transform="matrix(1.0700 0 0 1.0900 317.82 200.33)" font-family='"Liberation Serif", serif' font-size="20" stroke="#000" stroke-width="0.12">20</text>
<text x="20" y="60" transform="matrix(1.0409 0 0 1.0109 382.92 206.95)" font-family='"Liberation Serif", serif' font-size="20" stroke="#000" stroke-width="0.12">Time [min]</text>
<text x="20" y="60" transform="matrix(1.0755 0 0 1.0038 199.81 78.57)" font-family='"Liberation Serif", serif' font-size="20" stroke="#000" stroke-width="0.12">2,4D</text>
<text x="20" y="60" transform="matrix(0.9821 0 0 1.0148 243.52 42.66)" font-family='"Liberation Serif", serif' font-size="20" stroke="#000" stroke-width="0.12">GA</text>
<text x="20" y="60" transform="matrix(0.9916 0 0 1.0189 284.32 15.67)" font-family='"Liberation Serif", serif' font-size="20" stroke="#000" stroke-width="0.12">ABA</text>
<text x="20" y="60" transform="matrix(0.9612 0 0 1.0113 268.76 79.62)" font-family='"Liberation Serif", serif' font-size="20" stroke="#000" stroke-width="0.12">IAA</text>
<text x="20" y="60" transform="matrix(0.9851 0 0 1.0189 306.16 77.67)" font-family='"Liberation Serif", serif' font-size="20" stroke="#000" stroke-width="0.12">IBA</text>
<text x="20" y="60" transform="matrix(1.0185 0 0 1.0415 378.72 1.31)" font-family='"Liberation Serif", serif' font-size="20" stroke="#000" stroke-width="0.12">BA</text>
<text x="20" y="60" transform="matrix(1.0600 0 0 1.0600 347.09 30.60)" font-family='"Liberation Serif", serif' font-size="20" stroke="#000" stroke-width="0.12">Z</text>
<text x="20" y="60" transform="matrix(0.9848 0 0 1.0189 250.81 126.57)" font-family='"Liberation Serif", serif' font-size="20" stroke="#000" stroke-width="0.12">NAA</text>
<text x="20" y="60" transform="matrix(1.0395 0 0 1.0426 500.45 -46.80)" font-family='"Liberation Sans", sans-serif' font-size="17" stroke="#000" stroke-width="0.3">Intens</text>
<text x="20" y="60" transform="matrix(0.9600 0 0 1.0100 526.09 -22.10)" font-family='"Liberation Sans", sans-serif' font-size="17" stroke="#000" stroke-width="0.3">10</text>
<text x="20" y="60" transform="matrix(1.0200 0 0 1.0400 544.12 -30.10)" font-family='"Liberation Sans", sans-serif' font-size="10" stroke="#000" stroke-width="0.3">8</text>
<text x="20" y="60" transform="matrix(0.9600 0 0 1.0100 527.49 17.40)" font-family='"Liberation Sans", sans-serif' font-size="17" stroke="#000" stroke-width="0.3">10</text>
<text x="20" y="60" transform="matrix(1.0200 0 0 1.0400 545.70 9.00)" font-family='"Liberation Sans", sans-serif' font-size="10" stroke="#000" stroke-width="0.3">7</text>
<text x="20" y="60" transform="matrix(0.9600 0 0 1.0100 527.49 57.00)" font-family='"Liberation Sans", sans-serif' font-size="17" stroke="#000" stroke-width="0.3">10</text>
<text x="20" y="60" transform="matrix(1.0200 0 0 1.0400 545.77 49.00)" font-family='"Liberation Sans", sans-serif' font-size="10" stroke="#000" stroke-width="0.3">6</text>
<text x="20" y="60" transform="matrix(0.9600 0 0 1.0100 527.49 95.90)" font-family='"Liberation Sans", sans-serif' font-size="17" stroke="#000" stroke-width="0.3">10</text>
<text x="20" y="60" transform="matrix(1.0200 0 0 1.0400 545.77 87.90)" font-family='"Liberation Sans", sans-serif' font-size="10" stroke="#000" stroke-width="0.3">5</text>
<text x="20" y="60" transform="matrix(0.9600 0 0 1.0100 527.49 134.10)" font-family='"Liberation Sans", sans-serif' font-size="17" stroke="#000" stroke-width="0.3">10</text>
<text x="20" y="60" transform="matrix(1.0200 0 0 1.0400 545.70 126.40)" font-family='"Liberation Sans", sans-serif' font-size="10" stroke="#000" stroke-width="0.3">4</text>
<text x="20" y="60" transform="matrix(0.9600 0 0 1.0100 528.29 174.40)" font-family='"Liberation Sans", sans-serif' font-size="17" stroke="#000" stroke-width="0.3">10</text>
<text x="20" y="60" transform="matrix(1.0200 0 0 1.0400 546.52 166.80)" font-family='"Liberation Sans", sans-serif' font-size="10" stroke="#000" stroke-width="0.3">3</text>
<text x="20" y="60" transform="matrix(1.0000 0 0 1.0500 558.70 201.80)" font-family='"Liberation Sans", sans-serif' font-size="17" stroke="#000" stroke-width="0.3">0</text>
<text x="20" y="60" transform="matrix(1.0000 0 0 1.0500 630.05 201.80)" font-family='"Liberation Sans", sans-serif' font-size="17" stroke="#000" stroke-width="0.3">5</text>
<text x="20" y="60" transform="matrix(1.0000 0 0 1.0500 696.55 201.80)" font-family='"Liberation Sans", sans-serif' font-size="17" stroke="#000" stroke-width="0.3">10</text>
<text x="20" y="60" transform="matrix(1.0000 0 0 1.0500 768.40 201.80)" font-family='"Liberation Sans", sans-serif' font-size="17" stroke="#000" stroke-width="0.3">15</text>
<text x="20" y="60" transform="matrix(1.0000 0 0 1.0500 839.55 201.80)" font-family='"Liberation Sans", sans-serif' font-size="17" stroke="#000" stroke-width="0.3">20</text>
<text x="20" y="60" transform="matrix(1.0208 0 0 0.9520 923.07 207.18)" font-family='"Liberation Sans", sans-serif' font-size="17" stroke="#000" stroke-width="0.3">Time [min]</text>
<text x="20" y="60" transform="matrix(0.9464 0 0 1.0148 769.26 92.16)" font-family='"Liberation Serif", serif' font-size="20" stroke="#000" stroke-width="0.12">GA</text>
<text x="20" y="60" transform="matrix(0.9842 0 0 1.0038 794.18 61.67)" font-family='"Liberation Serif", serif' font-size="20" stroke="#000" stroke-width="0.12">IAA</text>
<text x="20" y="60" transform="matrix(0.9653 0 0 1.0415 815.45 126.31)" font-family='"Liberation Serif", serif' font-size="20" stroke="#000" stroke-width="0.12">ABA</text>
<text x="20" y="60" transform="matrix(1.0600 0 0 1.0600 953.89 147.00)" font-family='"Liberation Serif", serif' font-size="20" stroke="#000" stroke-width="0.12">Z</text>
</svg></body></html>
